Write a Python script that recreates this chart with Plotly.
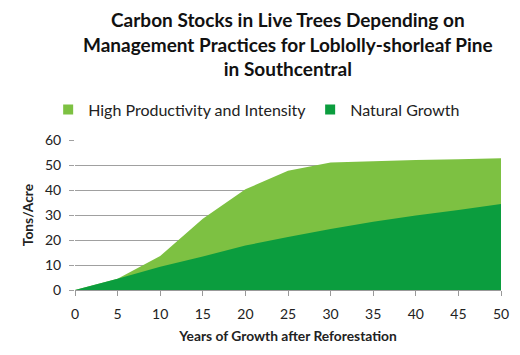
import plotly.graph_objects as go

years = [0, 5, 10, 15, 20, 25, 30, 35, 40, 45, 50]
high_productivity = [0, 4.5, 13.6, 28.5, 40.3, 47.7, 51.0, 51.5, 52.0, 52.3, 52.7]
natural_growth = [0, 4.5, 9.3, 13.4, 17.8, 21.2, 24.4, 27.3, 29.8, 32.0, 34.4]
series_names = ["High Productivity and Intensity", "Natural Growth"]
colors = ["#7DC142", "#0B9D3E"]

font = "Lato, 'Open Sans', sans-serif"
fig = go.Figure()
for name, vals, col in zip(series_names, [high_productivity, natural_growth], colors):
    fig.add_trace(go.Scatter(x=years, y=vals, name=name, mode="none", fill="tozeroy",
                             fillcolor=col, showlegend=False, hoverinfo="x+y+name"))
for name, col, lg in zip(series_names, colors, ["legend", "legend2"]):
    fig.add_trace(go.Scatter(x=[None], y=[None], name=name, mode="markers", legend=lg,
                             marker=dict(symbol="square", size=10, color=col)))

legend_style = dict(orientation="h", yanchor="middle", y=1.203,
                    font=dict(size=16, color="#222"), bgcolor="rgba(0,0,0,0)")
fig.update_layout(
    width=520, height=355,
    margin=dict(l=75, r=19, t=140, b=65),
    paper_bgcolor="white", plot_bgcolor="white",
    font=dict(family=font, color="#222", size=14),
    annotations=[dict(
        text="<b>Carbon Stocks in Live Trees Depending on<br>Management Practices for Loblolly-shorleaf Pine<br>in Southcentral</b>",
        xref="paper", yref="paper", x=0.5, xanchor="center", y=1.0, yanchor="bottom",
        yshift=58, showarrow=False, align="center", font=dict(size=19, color="#111"))],
    legend=dict(x=-0.063, xanchor="left", **legend_style),
    legend2=dict(x=0.552, xanchor="left", **legend_style),
    showlegend=True,
)
fig.update_xaxes(range=[0, 50], tickvals=years, showgrid=False, showline=True, linecolor="#999",
                 ticks="outside", tickcolor="#999", ticklen=5, tickfont=dict(size=14),
                 ticklabelstandoff=6,
                 title=dict(text="<b>Years of Growth after Reforestation</b>", font=dict(size=13.8), standoff=10),
                 zeroline=False)
fig.update_yaxes(range=[0, 60], dtick=10, showgrid=True, gridcolor="#A0A0A0", gridwidth=1,
                 ticks="outside", tickcolor="#A0A0A0", ticklen=5, tickfont=dict(size=14),
                 ticklabelstandoff=5,
                 title=dict(text="<b>Tons/Acre</b>", font=dict(size=13.8), standoff=8),
                 zeroline=False, showline=False)
fig.write_html("out.html", config=dict(displayModeBar=False),
               post_script="document.body.style.margin='0';")
